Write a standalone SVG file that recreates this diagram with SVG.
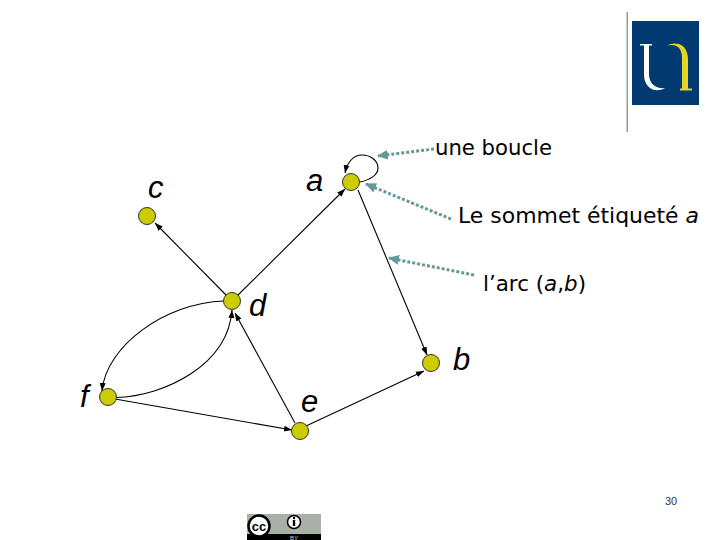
<svg xmlns="http://www.w3.org/2000/svg" width="720" height="540" viewBox="0 0 720 540">
<style>
.n{fill:#cccc00;stroke:#333;stroke-width:1}
.e{fill:none;stroke:#000;stroke-width:1.1;marker-end:url(#ah)}
.d{fill:none;stroke:#669999;stroke-width:3;stroke-dasharray:3 2;marker-end:url(#dh)}
.l{font-family:"Liberation Sans",Arial,sans-serif;font-style:italic;font-size:31px;fill:#000}
.t{font-family:"DejaVu Sans",sans-serif;font-size:21px;fill:#000}
.i{font-style:italic}
</style>
<defs>
<marker id="ah" markerUnits="userSpaceOnUse" markerWidth="10" markerHeight="8" refX="8" refY="4" orient="auto"><path d="M0 1L8 4L0 7Z" fill="#000"/></marker>
<marker id="dh" markerUnits="userSpaceOnUse" markerWidth="12" markerHeight="10" refX="10" refY="5" orient="auto"><path d="M0 0L11 5L0 10Z" fill="#669999"/></marker>
</defs>
<g id="logo">
<rect x="626.5" y="12" width="1.5" height="120" fill="#999"/>
<rect x="632" y="21" width="67" height="84" fill="#003a70"/>
<path d="M640 44H652V45.500H649V74C649 84 656 89 665 88C660 91 654 91 650 88C645.500 84 644 80 644 74V45.500H640Z" fill="#fff"/>
<path d="M667 46C670 43 675 43 679 44C685 46 688 52 688 60V88.500H692V90.500H680V88.500H682V58C682 52 680 47 675 45.500C672 44.500 669 45 667 46Z" fill="#e2d428"/>
</g>
<g id="connectors">
<path class="e" d="M227 296L155 223"/>
<path class="e" d="M238 295L345 189"/>
<path class="e" d="M358 190L427 355"/>
<path class="e" d="M306 426L424 371"/>
<path class="e" d="M295 423L235 313"/>
<path class="e" d="M115 399L292 430"/>
<path class="e" d="M224 301C165 303 106 346 102 391"/>
<path class="e" d="M116 397.500C165 396 228 365 232 310"/>
<path class="e" d="M360 182C370 180 378 175 378 168C378 160 370 155 362 155C353 155 347 163 345 173"/>
<path class="d" d="M434 149L378 156"/>
<path class="d" d="M451 219L366 184"/>
<path class="d" d="M474 275L389 258"/>
</g>
<g id="a"><circle class="n" cx="351" cy="182" r="8.500"/><text class="l" x="306" y="191">a</text></g>
<g id="b"><circle class="n" cx="431" cy="363" r="8.500"/><text class="l" x="453" y="370">b</text></g>
<g id="c"><circle class="n" cx="147" cy="216" r="8.500"/><text class="l" x="148" y="198">c</text></g>
<g id="d"><circle class="n" cx="232" cy="301" r="8.500"/><text class="l" x="249" y="316">d</text></g>
<g id="e"><circle class="n" cx="300" cy="431" r="8.500"/><text class="l" x="301" y="412">e</text></g>
<g id="f"><circle class="n" cx="108" cy="397" r="8.500"/><text class="l" x="80" y="407">f</text></g>
<g id="labels">
<text class="t" x="435" y="155" textLength="117" lengthAdjust="spacingAndGlyphs">une boucle</text>
<text class="t" x="458" y="223" textLength="241" lengthAdjust="spacingAndGlyphs">Le sommet étiqueté <tspan class="i">a</tspan></text>
<text class="t" x="483" y="291" textLength="103" lengthAdjust="spacingAndGlyphs">l’arc (<tspan class="i">a</tspan>,<tspan class="i">b</tspan>)</text>
<text x="665" y="505" font-family="Liberation Sans,Arial,sans-serif" font-size="11" fill="#333">30</text>
</g>
<g id="cc">
<rect x="247" y="514" width="74" height="26" fill="#aab0a8"/>
<rect x="247" y="534" width="74" height="6" fill="#000"/>
<circle cx="259" cy="526" r="10.500" fill="#fff" stroke="#000" stroke-width="2.500"/>
<text x="259" y="530.500" text-anchor="middle" font-family="Liberation Sans,Arial,sans-serif" font-size="13" font-weight="bold" fill="#000">cc</text>
<circle cx="294" cy="522" r="6.500" fill="#fff" stroke="#000" stroke-width="1.500"/>
<rect x="292.800" y="520" width="2.400" height="6" fill="#000"/><circle cx="294" cy="518" r="1.200" fill="#000"/>
<text x="294" y="539.500" text-anchor="middle" font-family="Liberation Sans,Arial,sans-serif" font-size="6" fill="#ccc">BY</text>
</g>
</svg>
